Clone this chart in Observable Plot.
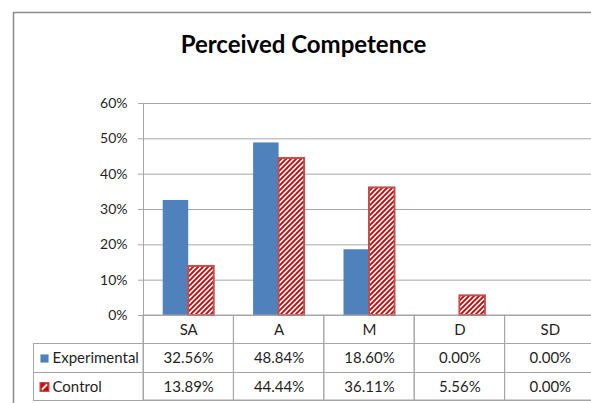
<!DOCTYPE html>
<html>
<head>
<meta charset="utf-8">
<script src="https://cdn.jsdelivr.net/npm/d3@7"></script>
<script src="https://cdn.jsdelivr.net/npm/@observablehq/plot@0.6"></script>
<style>
  body { margin: 0; background: #fff; }
  #chart svg { display: block; }
</style>
</head>
<body>
<div id="chart"></div>
<script>
// Survey responses (percent of each group) on the Perceived Competence scale
const title = "Perceived Competence";
const categories = ["SA", "A", "M", "D", "SD"];
const seriesNames = ["Experimental", "Control"];
const experimental = [32.56, 48.84, 18.60, 0.00, 0.00];
const control = [13.89, 44.44, 36.11, 5.56, 0.00];
const yTicks = [0, 10, 20, 30, 40, 50, 60];

const blue = "#4f81bd";
const hatchRed = "#cc0000";
const edgeRed = "#c0504d";
const lineGray = "#a6a6a6";
const ink = "#1f1f1f";

const rows = seriesNames.flatMap((s, j) =>
  categories.map((c, i) => ({series: s, cat: c, value: (j ? control : experimental)[i]}))
);
const expRows = rows.filter(d => d.series === "Experimental");
const ctlRows = rows.filter(d => d.series === "Control");

// band geometry: two bars side by side in the middle of each category band
const xRange = [143, 595];
const half = (xRange[1] - xRange[0]) / categories.length / 2;
const barW = 25.5;

// diagonal hatch for the Control bars, and a single-slash key for its legend swatch
const hatchDefs = () => {
  const defs = d3.create("svg:defs");
  const p = defs.append("pattern")
    .attr("id", "ctrl-hatch")
    .attr("patternUnits", "userSpaceOnUse")
    .attr("width", 5).attr("height", 5);
  p.append("rect").attr("width", 5).attr("height", 5).attr("fill", "#fff");
  p.append("path")
    .attr("d", "M-1.25,1.25 l2.5,-2.5 M0,5 l5,-5 M3.75,6.25 l2.5,-2.5")
    .attr("stroke", hatchRed).attr("stroke-width", 1.9);
  const k = defs.append("pattern")
    .attr("id", "ctrl-key")
    .attr("patternUnits", "objectBoundingBox")
    .attr("patternContentUnits", "objectBoundingBox")
    .attr("width", 1).attr("height", 1);
  k.append("rect").attr("width", 1).attr("height", 1).attr("fill", hatchRed);
  k.append("path").attr("d", "M0.2,0.8 L0.8,0.2").attr("stroke", "#fff").attr("stroke-width", 0.22);
  return defs.node();
};

const pct = v => v.toFixed(2) + "%";
const cellText = {frameAnchor: "bottom", lineAnchor: "middle", fontSize: 15, fill: ink};
const keyText = {frameAnchor: "bottom-left", lineAnchor: "middle", textAnchor: "start", fontSize: 15, fill: ink};

const chart = Plot.plot({
  width: 591,
  height: 403,
  marginLeft: 143,
  marginRight: 0,
  marginTop: 103,
  marginBottom: 88,
  style: {background: "#fff", color: ink, fontFamily: "Lato, sans-serif", fontSize: "14px"},
  x: {domain: categories, range: xRange, padding: 0, round: false, axis: null},
  y: {domain: [0, 60], ticks: yTicks, tickSize: 0, tickPadding: 16, tickFormat: d => d + "%", label: null},
  marks: [
    hatchDefs,
    // outer chart border
    Plot.frame({stroke: "#8c8c8c", strokeWidth: 1.5, insetLeft: -130, insetTop: -91, insetRight: -10, insetBottom: -100}),
    // gridlines with short outward tick marks
    Plot.ruleY(yTicks, {stroke: lineGray, insetLeft: -5, insetRight: -5}),
    // bars
    Plot.barY(expRows.filter(d => d.value > 0), {
      x: "cat", y: "value", fill: blue,
      insetLeft: half - barW, insetRight: half
    }),
    Plot.barY(ctlRows.filter(d => d.value > 0), {
      x: "cat", y: "value", fill: "url(#ctrl-hatch)", stroke: edgeRed, strokeWidth: 2,
      insetLeft: half, insetRight: half - barW
    }),
    // value axis line and data-table outline
    Plot.frame({stroke: lineGray, insetRight: -5, insetBottom: -85}),
    Plot.cell(categories, {x: d => d, fill: "none", stroke: lineGray, insetTop: 212, insetBottom: -85}),
    Plot.frame({stroke: lineGray, insetLeft: -110, insetTop: 240, insetBottom: -85, insetRight: -5}),
    Plot.ruleY([0], {dy: 57, stroke: lineGray, insetLeft: -110, insetRight: -5}),
    // data table: category header and one row per series
    Plot.text(categories, {x: d => d, text: d => d, dy: 14.5, ...cellText}),
    Plot.text(expRows, {x: "cat", text: d => pct(d.value), dy: 43, ...cellText}),
    Plot.text(ctlRows, {x: "cat", text: d => pct(d.value), dy: 71.5, ...cellText}),
    // row legend keys
    Plot.dot([seriesNames[0]], {frameAnchor: "bottom-left", dx: -99, dy: 43, symbol: "square", r: 4.6, fill: blue}),
    Plot.dot([seriesNames[1]], {frameAnchor: "bottom-left", dx: -99, dy: 71.5, symbol: "square", r: 5, fill: "url(#ctrl-key)", stroke: edgeRed, strokeWidth: 1.2}),
    Plot.text([seriesNames[0]], {text: d => d, dx: -91, dy: 43, ...keyText}),
    Plot.text([seriesNames[1]], {text: d => d, dx: -91, dy: 71.5, ...keyText}),
    // chart title
    Plot.text([title], {text: d => d, frameAnchor: "top", lineAnchor: "middle", dx: -64, dy: -58, fontSize: 24, fontWeight: "bold", fill: "#000"})
  ]
});

document.getElementById("chart").append(chart);
</script>
</body>
</html>
